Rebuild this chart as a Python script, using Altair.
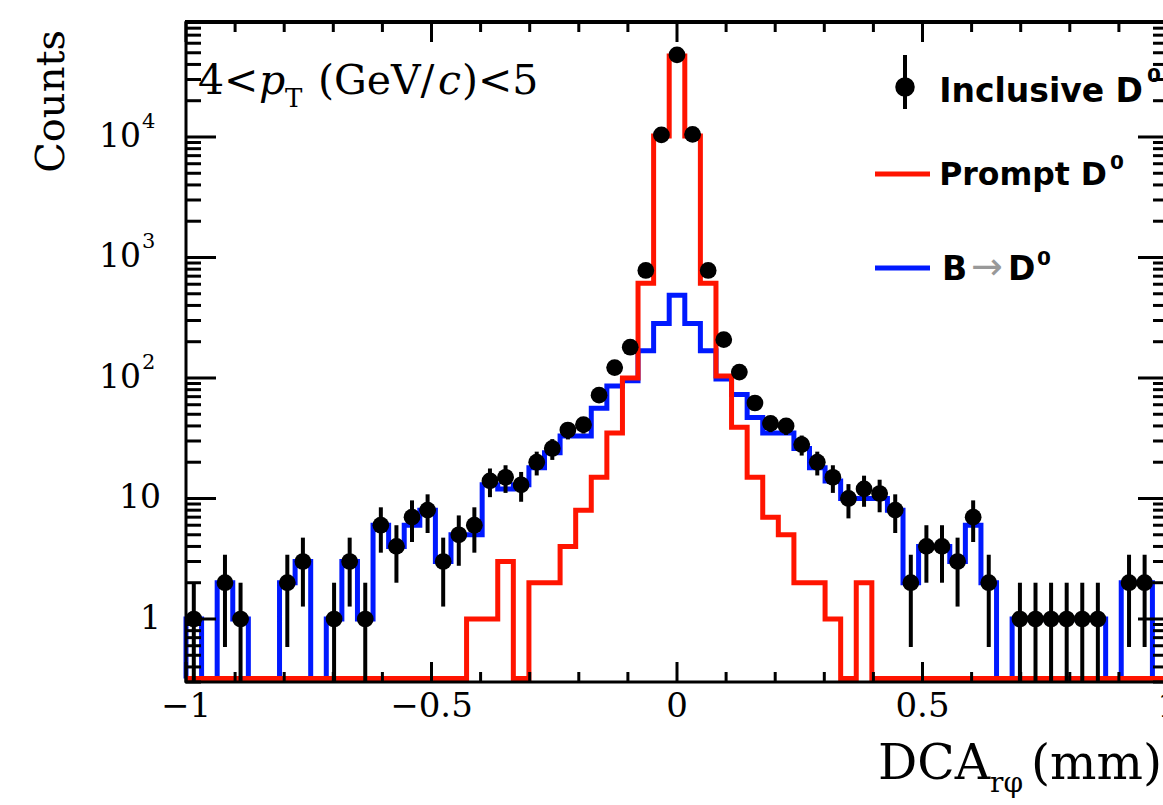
import math
import altair as alt
import pandas as pd

# ---------------- data (63 bins of width 2/63 on [-1, 1]) ----------------
bin_index = list(range(-31, 32))

inclusive = [1, 0, 2, 1, 0, 0, 2, 3, 0, 1, 3, 1, 6, 4, 7, 8,
             3, 5, 6, 14, 15, 13, 20, 26, 37, 41, 72, 122, 180, 780, 10400,
             48000,
             10500, 780, 208, 112, 62, 42, 40, 28, 20, 15, 10, 12, 11, 8, 2,
             4, 4, 3, 7, 2, 0, 1, 1, 1, 1, 1, 1, 0, 2, 2, 0]

prompt = [0, 0, 0, 0, 0, 0, 0, 0, 0, 0, 0, 0, 0, 0, 0, 0,
          0, 0, 1, 1, 3, 0, 2, 2, 4, 8, 15, 35, 100, 610, 10200,
          47000,
          10200, 610, 104, 39, 15, 7, 5, 2, 2, 1, 0, 2, 0, 0, 0,
          0, 0, 0, 0, 0, 0, 0, 0, 0, 0, 0, 0, 0, 0, 0, 0]

b_to_d = [1, 0, 2, 1, 0, 0, 2, 3, 0, 1, 3, 1, 6, 4, 6, 8,
          3, 5, 5, 13, 12, 13, 18, 24, 33, 33, 56, 86, 95, 168, 283,
          485,
          283, 168, 98, 73, 47, 35, 35, 26, 18, 14, 10, 10, 10, 8, 2,
          4, 4, 3, 6, 2, 0, 1, 1, 1, 1, 1, 1, 0, 2, 2, 0]

x_major = [-1.0, -0.5, 0.0, 0.5, 1.0]
x_major_labels = ["\u22121", "\u22120.5", "0", "0.5", "1"]
x_minor = [-0.9, -0.8, -0.7, -0.6, -0.4, -0.3, -0.2, -0.1,
           0.1, 0.2, 0.3, 0.4, 0.6, 0.7, 0.8, 0.9]
y_major = [1, 10, 100, 1000, 10000]
y_major_base = ["1", "10", "10", "10", "10"]
y_major_exp = ["", "", "2", "3", "4"]
y_minor_mult = [2, 3, 4, 5, 6, 7, 8, 9]

# ---------------- geometry / style ----------------
NB = len(bin_index)
BW = 2.0 / NB
edges = [-1.0 + BW * i for i in range(NB + 1)]
centers = [BW * k for k in bin_index]

YMIN, YMAX = 0.3, 9.0e4
FLOOR = 0.32
PW, PH = 977, 660          # visible plot area
FULLW = 982                # full frame width (right part is cropped)

x_scale = alt.Scale(domain=[-1.0, -1.0 + 2.0 * PW / FULLW], nice=False, zero=False)
y_scale = alt.Scale(type="log", domain=[YMIN, YMAX], nice=False, clamp=True)

RED = "#ff1400"
BLUE = "#0019ff"


def X(f):
    return alt.X(f, type="quantitative", scale=x_scale, axis=None)


def Y(f):
    return alt.Y(f, type="quantitative", scale=y_scale, axis=None)


def step_frame(vals):
    rows = [dict(x=edges[0], y=FLOOR, o=0)]
    o = 1
    for i, v in enumerate(vals):
        vv = v if v > 0 else FLOOR
        rows.append(dict(x=edges[i], y=vv, o=o)); o += 1
        rows.append(dict(x=edges[i + 1], y=vv, o=o)); o += 1
    rows.append(dict(x=edges[-1], y=FLOOR, o=o))
    return pd.DataFrame(rows)


blue_line = alt.Chart(step_frame(b_to_d)).mark_line(
    color=BLUE, strokeWidth=5, strokeJoin="miter"
).encode(x=X("x"), y=Y("y"), order="o:Q")

red_line = alt.Chart(step_frame(prompt)).mark_line(
    color=RED, strokeWidth=5, strokeJoin="miter"
).encode(x=X("x"), y=Y("y"), order="o:Q")

pts = []
for i, n in enumerate(inclusive):
    if n > 0:
        e = math.sqrt(n)
        pts.append(dict(x=centers[i], lo_x=edges[i], hi_x=edges[i + 1], n=n,
                        lo=max(n - e, 0.01), hi=n + e))
pts = pd.DataFrame(pts)

err_v = alt.Chart(pts).mark_rule(color="black", strokeWidth=4).encode(
    x=X("x"), y=Y("lo"), y2="hi:Q")
err_h = alt.Chart(pts).mark_rule(color="black", strokeWidth=3).encode(
    x=X("lo_x"), x2="hi_x:Q", y=Y("n"))
dots = alt.Chart(pts).mark_circle(color="black", opacity=1, size=280).encode(
    x=X("x"), y=Y("n"))

# ---------------- frame and ticks ----------------
one = pd.DataFrame({"a": [0]})
frame = [
    alt.Chart(one).mark_rule(color="black", strokeWidth=3).encode(
        x=alt.value(0), y=alt.value(-1), y2=alt.value(PH + 1)),
    alt.Chart(one).mark_rule(color="black", strokeWidth=4).encode(
        x=alt.value(-1), x2=alt.value(FULLW), y=alt.value(0)),
    alt.Chart(one).mark_rule(color="black", strokeWidth=3).encode(
        x=alt.value(-1), x2=alt.value(FULLW), y=alt.value(PH)),
]

xmaj = pd.DataFrame({"v": x_major, "t": x_major_labels})
xmin_df = pd.DataFrame({"v": x_minor})
y_minor = [m * 10 ** p for p in range(-1, 5) for m in y_minor_mult
           if YMIN <= m * 10 ** p <= YMAX]
ymaj = pd.DataFrame({"v": y_major, "b": y_major_base, "e": y_major_exp})
ymin_df = pd.DataFrame({"v": y_minor})

ticks = [
    alt.Chart(xmaj).mark_rule(color="black", strokeWidth=3).encode(
        x=X("v"), y=alt.value(PH), y2=alt.value(PH - 20)),
    alt.Chart(xmin_df).mark_rule(color="black", strokeWidth=3).encode(
        x=X("v"), y=alt.value(PH), y2=alt.value(PH - 10)),
    alt.Chart(xmaj).mark_rule(color="black", strokeWidth=3).encode(
        x=X("v"), y=alt.value(0), y2=alt.value(20)),
    alt.Chart(xmin_df).mark_rule(color="black", strokeWidth=3).encode(
        x=X("v"), y=alt.value(0), y2=alt.value(10)),
    alt.Chart(ymaj).mark_rule(color="black", strokeWidth=3).encode(
        y=Y("v"), x=alt.value(0), x2=alt.value(30)),
    alt.Chart(ymin_df).mark_rule(color="black", strokeWidth=3).encode(
        y=Y("v"), x=alt.value(0), x2=alt.value(15)),
    alt.Chart(ymaj).mark_rule(color="black", strokeWidth=3).encode(
        y=Y("v"), x=alt.value(FULLW - 30), x2=alt.value(FULLW)),
    alt.Chart(ymin_df).mark_rule(color="black", strokeWidth=3).encode(
        y=Y("v"), x=alt.value(FULLW - 15), x2=alt.value(FULLW)),
]

SERIF = "DejaVu Serif"
SANS = "DejaVu Sans"

xlabels = alt.Chart(xmaj).mark_text(
    font=SERIF, fontSize=34, baseline="top", align="center", color="black"
).encode(x=X("v"), y=alt.value(PH + 8), text="t:N")

ymaj_plain = ymaj[ymaj["e"] == ""]
ymaj_exp = ymaj[ymaj["e"] != ""]
ylab_plain = alt.Chart(ymaj_plain).mark_text(
    font=SERIF, fontSize=33, baseline="middle", align="right", color="black"
).encode(y=Y("v"), x=alt.value(-25), text="b:N")
ylab_base = alt.Chart(ymaj_exp).mark_text(
    font=SERIF, fontSize=33, baseline="middle", align="right", color="black"
).encode(y=Y("v"), x=alt.value(-45), text="b:N")
ylab_exp = alt.Chart(ymaj_exp).mark_text(
    font=SERIF, fontSize=21, baseline="middle", align="left", dy=-15, color="black"
).encode(y=Y("v"), x=alt.value(-44), text="e:N")


def txt(s, x, y, size, font=SERIF, style="normal", weight="normal",
        align="left", baseline="alphabetic", angle=0, color="black"):
    kw = dict(font=font, fontSize=size, fontStyle=style, fontWeight=weight,
              align=align, baseline=baseline, color=color)
    if angle:
        kw["angle"] = angle
    return alt.Chart(pd.DataFrame({"t": [s]})).mark_text(**kw).encode(
        x=alt.value(x), y=alt.value(y), text="t:N")


titles = [
    txt("Counts", -134, 8, 40, align="right", baseline="middle", angle=270),
    txt("DCA", 692, 757, 49),
    txt("r\u03c6", 804, 770, 28),
    txt("(mm)", 845, 757, 49),
    # pT annotation
    txt("4<", 12, 72, 41),
    txt("p", 73, 72, 41, style="italic"),
    txt("T", 99, 85, 26),
    txt("(GeV/", 132, 72, 41),
    txt("c", 252, 72, 41, style="italic"),
    txt(")<5", 276, 72, 41),
]

# ---------------- legend ----------------
leg = [
    alt.Chart(one).mark_rule(color="black", strokeWidth=4).encode(
        x=alt.value(719), y=alt.value(33), y2=alt.value(87)),
    alt.Chart(one).mark_circle(color="black", opacity=1, size=380).encode(
        x=alt.value(719), y=alt.value(65)),
    txt("Inclusive D", 957, 80, 33, font=SANS, weight="bold", align="right"),
    txt("0", 961, 60, 20, font=SANS, weight="bold"),
    alt.Chart(one).mark_rule(color=RED, strokeWidth=5).encode(
        x=alt.value(689), x2=alt.value(744), y=alt.value(152)),
    txt("Prompt D", 921, 163, 31.5, font=SANS, weight="bold", align="right"),
    txt("0", 924, 147, 20, font=SANS, weight="bold"),
    alt.Chart(one).mark_rule(color=BLUE, strokeWidth=5).encode(
        x=alt.value(689), x2=alt.value(744), y=alt.value(246)),
    txt("B", 756, 258, 33, font=SANS, weight="bold"),
    txt("\u2192", 785, 257, 38, font=SANS, color="#999999"),
    txt("D", 822, 258, 33, font=SANS, weight="bold"),
    txt("0", 851, 243, 20, font=SANS, weight="bold"),
]

chart = alt.layer(
    blue_line, red_line, err_v, err_h, dots,
    *frame, *ticks, xlabels, ylab_plain, ylab_base, ylab_exp,
    *titles, *leg
).properties(
    width=PW, height=PH,
    autosize=alt.AutoSizeParams(type="none"),
    padding={"left": 186, "top": 22, "right": 0, "bottom": 123},
    background="white",
).configure_view(stroke=None)

chart.save("out.html", embed_options={"renderer": "svg", "actions": False})
